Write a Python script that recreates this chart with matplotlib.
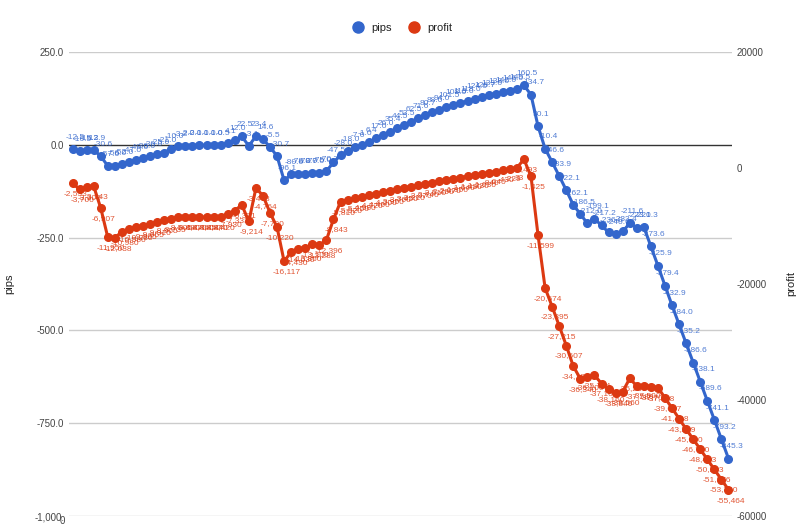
import matplotlib
matplotlib.use("Agg")
import matplotlib.pyplot as plt
from matplotlib.lines import Line2D

plt.rcParams["font.family"] = "Liberation Sans"

pips = [-12.5, -16.5, -15.2, -13.9, -30.6, -57.0, -56.0, -52.0, -47.0, -40.0,
        -36.0, -30.0, -25.0, -21.0, -10.0, -3.2, -2.0, -2.0, -1.0, -1.0,
        -1.0, -0.5, 4.1, 12.0, 22.5, -3.1, 23.4, 14.6, -5.5, -30.7,
        -96.1, -80.0, -78.0, -78.0, -77.0, -75.0, -70.7, -47.5, -28.0, -18.0,
        -7.0, -1.0, 6.4, 17.0, 26.0, 35.4, 44.5, 53.5, 62.5, 71.6,
        80.7, 88.0, 94.0, 101.5, 108.0, 113.0, 118.0, 124.0, 128.7, 133.0,
        138.0, 142.0, 146.0, 149.5, 160.5, 134.7, 50.1, -10.4, -46.6, -83.9,
        -122.1, -162.1, -186.5, -212.0, -199.1, -217.2, -236.0, -240.0, -233.4, -211.6,
        -223.0, -221.3, -273.6, -325.9, -379.4, -432.9, -484.0, -535.2, -586.6, -638.1,
        -689.6, -741.1, -793.2, -845.3]

profit = [-2593, -3700, -3300, -3143, -6907, -11950, -12038, -10980, -10580, -10230,
          -9995, -9655, -9310, -8965, -8735, -8505, -8480, -8470, -8460, -8450,
          -8440, -8420, -7930, -7333, -6371, -9214, -3478, -4764, -7700, -10220,
          -16117, -14430, -14030, -13860, -13100, -13288, -12396, -8843, -5810, -5520,
          -5250, -4980, -4720, -4460, -4200, -3950, -3700, -3450, -3210, -2970,
          -2740, -2510, -2290, -2070, -1850, -1640, -1430, -1230, -1030, -840,
          -640, -430, -229, 33, 1493, -1425, -11599, -20674, -23895, -27215,
          -30607, -34182, -36340, -36100, -35724, -37166, -38160, -38840, -38560, -36287,
          -37580, -37500, -37700, -37868, -39637, -41408, -43219, -45030, -46760, -48493,
          -50233, -51976, -53720, -55464]

left_ticks = [250, 0, -250, -500, -750, -1000]
left_labels = ["250.0", "0.0", "-250.0", "-500.0", "-750.0", "-1,000."]
right_ticks = [20000, 0, -20000, -40000, -60000]
right_labels = ["20000", "0", "-20000", "-40000", "-60000"]

BLUE = "#3366cc"
RED = "#dc3912"
x = list(range(len(pips)))

fig = plt.figure(figsize=(8, 5.27), dpi=100)
ax = fig.add_axes([69/800, 1-516/527, (732-69)/800, (516-52)/527])
ax2 = ax.twinx()

ax.set_xlim(-0.5, len(pips)-0.5)
ax.set_ylim(-1000, 250)
ax2.set_ylim(-60000, 20000)

for t in left_ticks:
    if t == 0:
        ax.axhline(0, color="#333333", lw=1, zorder=1)
    else:
        ax.axhline(t, color="#cccccc", lw=1, zorder=0)

ax.plot(x, pips, color=BLUE, lw=2.2, marker="o", ms=5.5, zorder=3)
ax2.plot(x, profit, color=RED, lw=2.2, marker="o", ms=5.5, zorder=3)

for i, v in enumerate(pips):
    ax.annotate(f"{v:.1f}", (i, v), xytext=(2, 6), textcoords="offset points",
                ha="center", va="bottom", fontsize=6, color=BLUE, alpha=0.85)
for i, v in enumerate(profit):
    ax2.annotate(f"{v:,}", (i, v), xytext=(2, -5), textcoords="offset points",
                 ha="center", va="top", fontsize=6, color=RED, alpha=0.85)

ax.set_yticks(left_ticks)
ax.set_yticklabels(left_labels)
ax2.set_yticks(right_ticks)
ax2.set_yticklabels(right_labels)
for a in (ax, ax2):
    a.tick_params(length=0, labelsize=7, colors="#444444")
    for s in a.spines.values():
        s.set_visible(False)
ax.set_xticks([])
ax.set_ylabel("pips", fontsize=8, color="#222222", labelpad=14)
ax2.set_ylabel("profit", fontsize=8, color="#222222", labelpad=14)
fig.text(62/800, 1-521/527, "0", fontsize=7, color="#444444", ha="center", va="center")

handles = [Line2D([], [], marker="o", ls="", color=BLUE, ms=8),
           Line2D([], [], marker="o", ls="", color=RED, ms=8)]
fig.legend(handles, ["pips", "profit"], loc="center", bbox_to_anchor=(0.5, 1-28/527),
           ncol=2, frameon=False, fontsize=8, handletextpad=0.2, columnspacing=1.0,
           labelcolor="#222222")

fig.savefig("out.png", dpi=100)
